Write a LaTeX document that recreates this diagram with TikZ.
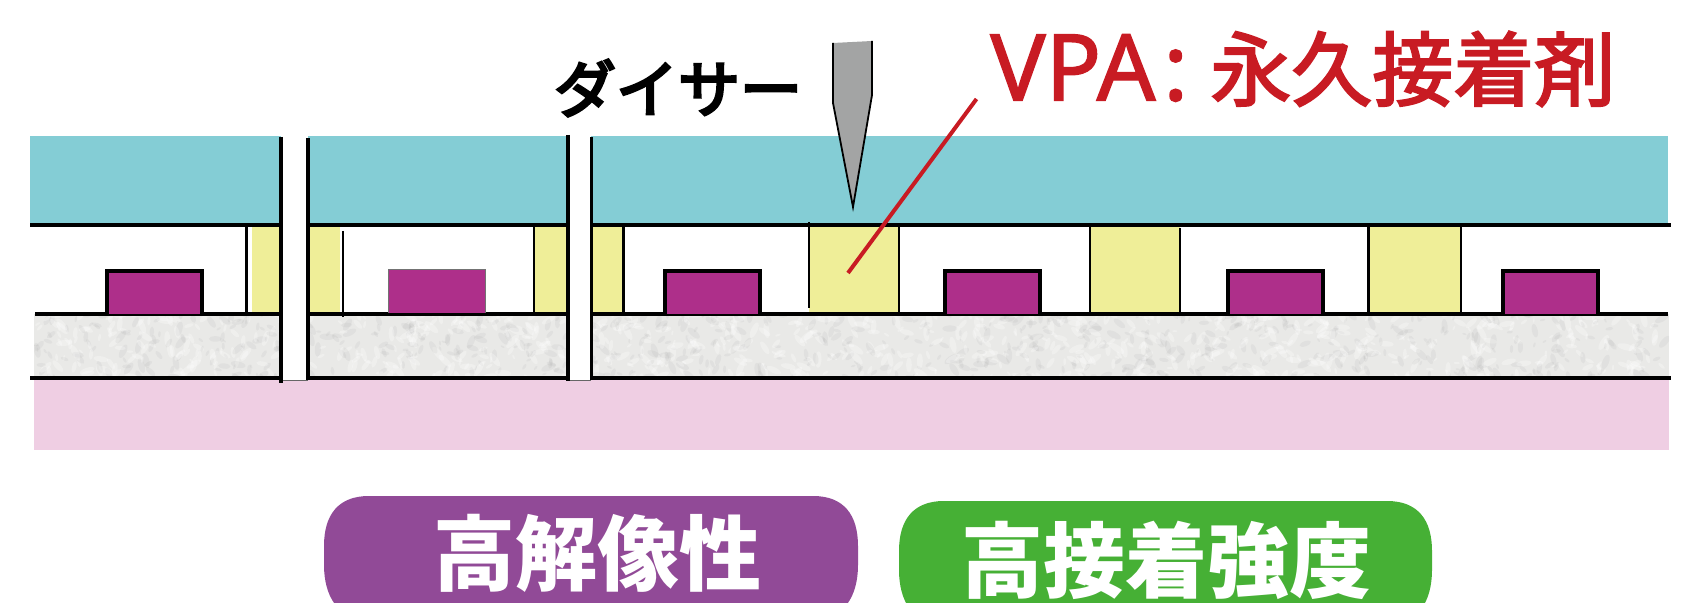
\documentclass[tikz,border=0pt]{standalone}
\usepackage{fontspec}
\setmainfont{Noto Sans CJK JP}
\newfontfamily\jpm[FakeBold=2.6]{Noto Sans CJK JP}
\newfontfamily\jph[FakeBold=4.5]{Noto Sans CJK JP}
\newfontfamily\latf[FakeBold=1.6]{Noto Sans}
\definecolor{teal1}{HTML}{84CDD5}
\definecolor{yel1}{HTML}{EFEE98}
\definecolor{pad1}{HTML}{AE2F8A}
\definecolor{gray1}{HTML}{E9E9E7}
\definecolor{pink1}{HTML}{EFCEE3}
\definecolor{red1}{HTML}{C81B23}
\definecolor{purp1}{HTML}{914A97}
\definecolor{green1}{HTML}{46B035}
\definecolor{blade}{HTML}{A3A4A4}
\tikzset{
  bl/.style={draw=black,line width=1.8pt},
  blt/.style={draw=black,line width=1.3pt},
  yl/.style={fill=yel1,draw=none},
}
\newcommand{\padbox}[2]{%
  \fill[pad1] (#1,#2) rectangle ({#1+95},314);
  \draw[bl] (#1,314) -- (#1,#2) -- ({#1+95},#2) -- ({#1+95},314);}
\begin{document}
\begin{tikzpicture}[x=0.5pt,y=-0.5pt]
\useasboundingbox (0,0) rectangle (1690,603);
% layers
\fill[teal1] (30,136) rectangle (1668,225);
\fill[gray1] (34,314) rectangle (1669,378);
\begin{scope}
  \clip (34,314) rectangle (1669,378);
  \pgfmathsetseed{4321}
  \foreach \i in {1,...,1500}{
    \pgfmathsetmacro{\xx}{34+rnd*1635}
    \pgfmathsetmacro{\yy}{314+rnd*64}
    \pgfmathsetmacro{\rr}{1.5+rnd*4}
    \pgfmathsetmacro{\aa}{rnd*180}
    \pgfmathtruncatemacro{\cc}{rnd<0.55 ? 1 : 0}
    \ifnum\cc=1
      \fill[white,opacity=0.28,rotate around={\aa:(\xx,\yy)}] (\xx,\yy) ellipse ({\rr pt*0.8} and {\rr pt*0.3});
    \else
      \fill[black!40,opacity=0.1,rotate around={\aa:(\xx,\yy)}] (\xx,\yy) ellipse ({\rr pt*0.7} and {\rr pt*0.3});
    \fi
  }
\end{scope}
\fill[pink1] (34,380) rectangle (1669,450);
% adhesive
\fill[yl] (252,227) rectangle (281,314);
\fill[yl] (308,227) rectangle (340,314);
\fill[yl] (534,227) rectangle (568,314);
\fill[yl] (591,227) rectangle (623,314);
\fill[yl] (809,227) rectangle (899,314);
\fill[yl] (1090,227) rectangle (1180,314);
\fill[yl] (1369,227) rectangle (1461,314);
% dicing gaps
\fill[white] (281,130) rectangle (308,380);
\fill[white] (568,130) rectangle (591,380);
\draw[black!60,line width=0.4pt] (281,380) -- (308,380) (568,380) -- (591,380);
% horizontal lines
\draw[bl] (30,225) -- (283,225) (306,225) -- (570,225) (590,225) -- (1671,225);
\draw[bl] (35,314) -- (283,314) (306,314) -- (570,314) (590,314) -- (1668,314);
\draw[bl] (30,378) -- (283,378) (306,378) -- (570,378) (590,378) -- (1671,378);
% gap walls
\draw[bl] (281,137) -- (281,383);
\draw[bl] (308,138) -- (308,380);
\draw[bl] (568,135) -- (568,381.5);
\draw[bl] (591.5,137) -- (591.5,380);
% adhesive walls
\draw[blt] (246.5,225) -- (246.5,314);
\draw[blt] (343,231) -- (343,317);
\draw[blt] (534,225) -- (534,314);
\draw[blt] (623.5,225) -- (623.5,314);
\draw[blt] (809,222) -- (809,308);
\draw[blt] (899,225) -- (899,314);
\draw[blt] (1090,225) -- (1090,314);
\draw[blt] (1180,228) -- (1180,314);
\draw[blt] (1368.5,225) -- (1368.5,314);
\draw[blt] (1461,225) -- (1461,314);
% pads
\padbox{107}{271}
\fill[pad1] (388,269) rectangle (485,313);
\draw[black!55,line width=0.4pt] (388,313) -- (388,269) -- (485,269) -- (485,313);
\padbox{665}{271}
\padbox{945}{271}
\padbox{1228}{271}
\padbox{1503}{271}
% dicer blade
\fill[blade] (833,43) -- (872,41) -- (872,95) -- (853,207) -- (833,103) -- cycle;
\draw[black,line width=0.9pt] (833,43) -- (833,103) -- (853,207) -- (872,95) -- (872,41);
% leader
\coordinate (leadA) at (976.5,99);
\coordinate (leadB) at (848,273);
\draw[red1,line width=2pt] (leadA) -- (leadB);
% labels
\node[anchor=center,inner sep=0pt] (dicer) at (678,88) {\fontsize{31}{36}\selectfont\jph ダイサー};
\node[anchor=west,inner sep=0pt,text=red1] (vpa) at (990,68) {\fontsize{46}{50}\selectfont\latf VPA\kern4pt:};
\node[anchor=west,inner sep=0pt,text=red1] (vpak) at (1210,69) {\fontsize{40.5}{44}\selectfont\jpm 永久接着剤};
% pills
\fill[purp1] (324,546) .. controls (324,515) and (338,496) .. (369,496) -- (813,496) .. controls (844,496) and (858,515) .. (858,546) -- (858,565) .. controls (858,596) and (844,620) .. (813,620) -- (369,620) .. controls (338,620) and (324,596) .. (324,565) -- cycle;
\fill[green1] (899,551) .. controls (899,520) and (913,501) .. (944,501) -- (1387,501) .. controls (1418,501) and (1432,520) .. (1432,551) -- (1432,570) .. controls (1432,601) and (1418,625) .. (1387,625) -- (944,625) .. controls (913,625) and (899,601) .. (899,570) -- cycle;
\node[inner sep=0pt,text=white] (hires) at (597,553) {\fontsize{41}{46}\selectfont\bfseries 高解像性};
\node[inner sep=0pt,text=white] (hibond) at (1166,560) {\fontsize{41}{46}\selectfont\bfseries 高接着強度};
\end{tikzpicture}
\end{document}
